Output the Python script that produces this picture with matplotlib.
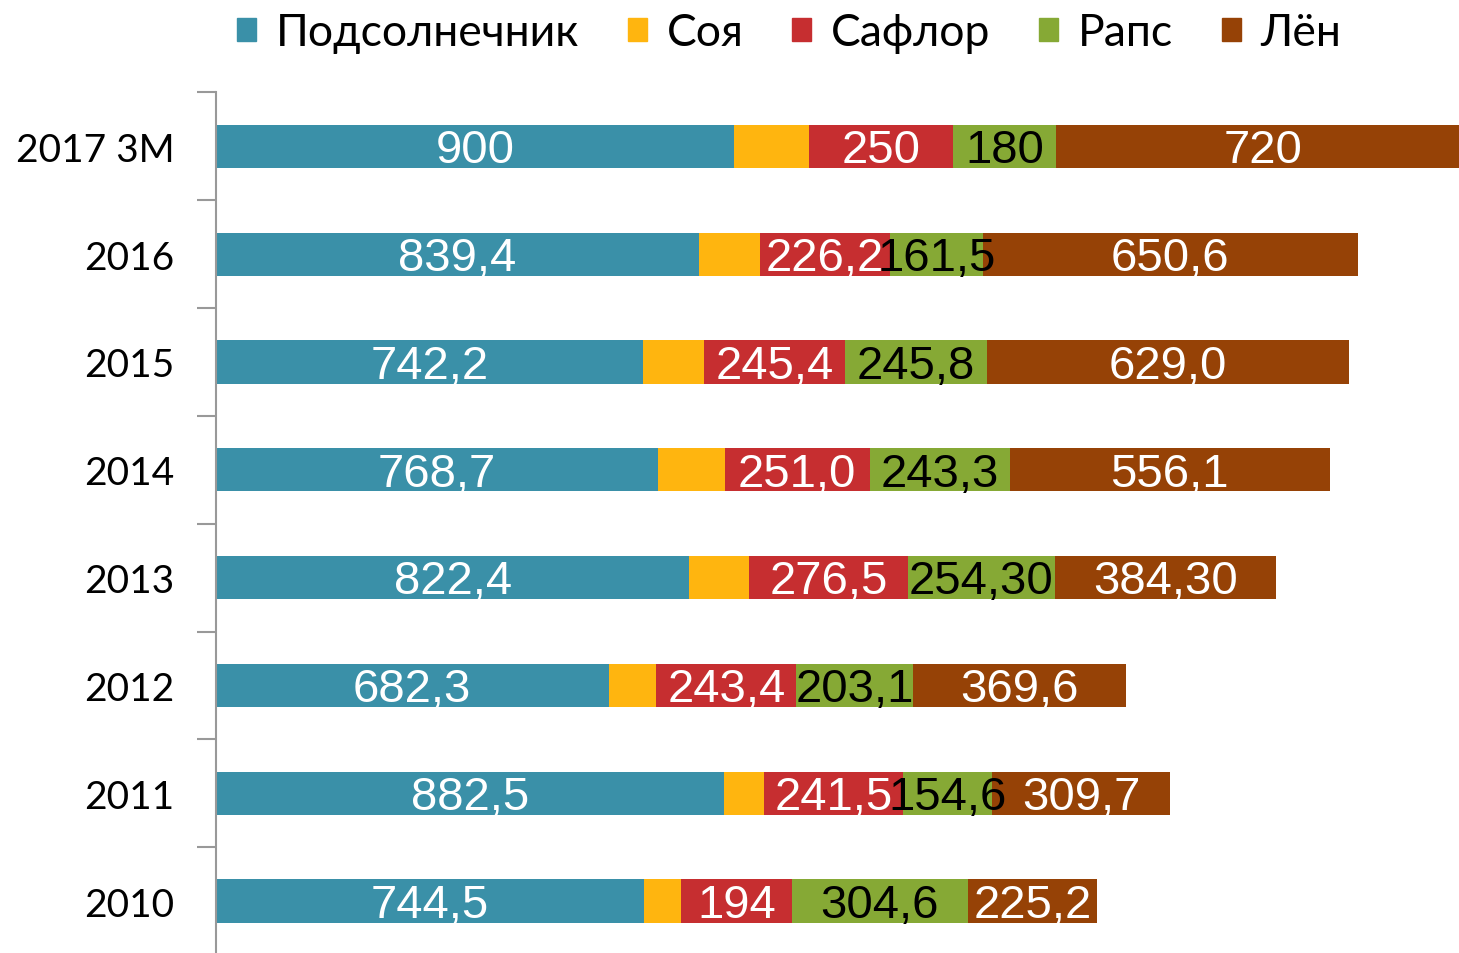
import numpy as np
import matplotlib.pyplot as plt
from matplotlib.patches import Patch

years = ['2010', '2011', '2012', '2013', '2014', '2015', '2016', '2017 3М']
series = ['Подсолнечник', 'Соя', 'Сафлор', 'Рапс', 'Лён']
sunflower = [744.5, 882.5, 682.3, 822.4, 768.7, 742.2, 839.4, 900]
soy = [63, 70, 83, 104, 116, 106, 106, 130]
safflower = [194, 241.5, 243.4, 276.5, 251.0, 245.4, 226.2, 250]
rapeseed = [304.6, 154.6, 203.1, 254.30, 243.3, 245.8, 161.5, 180]
flax = [225.2, 309.7, 369.6, 384.30, 556.1, 629.0, 650.6, 720]
labels = [
    ['744,5', '882,5', '682,3', '822,4', '768,7', '742,2', '839,4', '900'],
    None,
    ['194', '241,5', '243,4', '276,5', '251,0', '245,4', '226,2', '250'],
    ['304,6', '154,6', '203,1', '254,30', '243,3', '245,8', '161,5', '180'],
    ['225,2', '309,7', '369,6', '384,30', '556,1', '629,0', '650,6', '720'],
]
colors = ['#3A90A8', '#FFB50F', '#C62E30', '#86A935', '#964206']
txt_colors = ['white', None, 'white', 'black', 'white']

fig = plt.figure(figsize=(14.59, 9.54), dpi=100)
ax = fig.add_axes([0.148, -0.002, 0.852, 0.904])

y = np.arange(len(years))
left = np.zeros(len(years))
for i, vals in enumerate([sunflower, soy, safflower, rapeseed, flax]):
    vals = np.array(vals, dtype=float)
    bars = ax.barh(y, vals, left=left, height=0.4, color=colors[i],
                   edgecolor='none', label=series[i])
    if labels[i] is not None:
        for b, lab in zip(bars, labels[i]):
            t = ax.text(b.get_x() + b.get_width() / 2, b.get_y() + b.get_height() / 2 - 0.035,
                        lab, ha='center', va='center', fontsize=34,
                        color=txt_colors[i], family='Liberation Sans')
            if i == 4:
                t.set_clip_path(b)
    left += vals

ax.set_xlim(0, 2160)
ax.set_ylim(-0.5, 7.5)
ax.set_xticks([])
ax.set_yticks(y)
ax.set_yticklabels(years, fontsize=28, family='Lato')
ax.set_yticks(np.arange(-0.5, 8, 1), minor=True)
ax.tick_params(axis='y', which='major', length=0, pad=30)
ax.tick_params(axis='y', which='minor', length=14, width=1.5, color='#999999')
for s in ['top', 'right', 'bottom']:
    ax.spines[s].set_visible(False)
ax.spines['left'].set_color('#999999')
ax.spines['left'].set_linewidth(1.5)

handles = [Patch(color=c, label=s) for c, s in zip(colors, series)]
fig.legend(handles=handles, loc='upper center', bbox_to_anchor=(0.541, 1.028), ncol=5,
           frameon=False, handlelength=0.42, handleheight=0.42,
           handletextpad=0.45, columnspacing=1.1, prop={'family': 'Lato', 'size': 32})

fig.savefig('out.png', dpi=100)
